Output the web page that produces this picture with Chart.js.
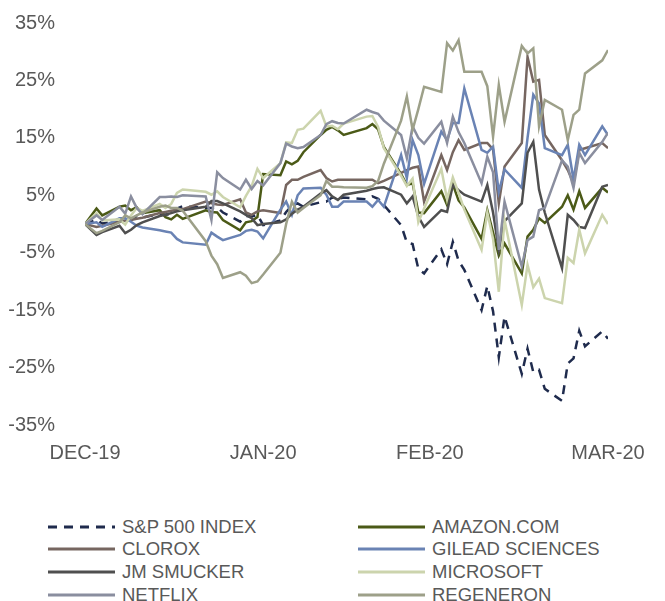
<!DOCTYPE html>
<html>
<head>
<meta charset="utf-8">
<script src="https://cdn.jsdelivr.net/npm/chart.js@4.4.1/dist/chart.umd.min.js"></script>
<style>
  html, body { margin: 0; padding: 0; background: #fff; }
  #wrap { position: relative; width: 665px; height: 601px; }
  #chartBox { position: absolute; left: 0; top: 0; width: 665px; height: 470px; }
  #legend { position: absolute; left: 0; top: 515px; width: 665px; font-family: "Liberation Sans", Arial, sans-serif; font-size: 18.5px; color: #595959; }
  .item { position: absolute; height: 23px; display: flex; align-items: center; white-space: nowrap; }
  .item svg { margin-right: 7px; }
</style>
</head>
<body>
<div id="wrap">
  <div id="chartBox"><canvas id="perfChart"></canvas></div>
  <div id="legend"></div>
</div>
<script>
// Performance cumulée depuis le 31/12/2019 (en %)

const dates = [
  "2019-12-31",
  "2020-01-02","2020-01-03","2020-01-06","2020-01-07","2020-01-08","2020-01-09","2020-01-10",
  "2020-01-13","2020-01-14","2020-01-15","2020-01-16","2020-01-17","2020-01-21","2020-01-22",
  "2020-01-23","2020-01-24","2020-01-27","2020-01-28","2020-01-29","2020-01-30","2020-01-31",
  "2020-02-03","2020-02-04","2020-02-05","2020-02-06","2020-02-07","2020-02-10","2020-02-11",
  "2020-02-12","2020-02-13","2020-02-14","2020-02-18","2020-02-19","2020-02-20","2020-02-21",
  "2020-02-24","2020-02-25","2020-02-26","2020-02-27","2020-02-28",
  "2020-03-02","2020-03-03","2020-03-04","2020-03-05","2020-03-06","2020-03-09","2020-03-10",
  "2020-03-11","2020-03-12","2020-03-13","2020-03-16","2020-03-17","2020-03-18","2020-03-19",
  "2020-03-20","2020-03-23","2020-03-24","2020-03-25","2020-03-26","2020-03-27","2020-03-30",
  "2020-03-31"
];

const tickDates = ["2019-12-31", "2020-01-31", "2020-02-29", "2020-03-31"];
const tickLabels = ["DEC-19", "JAN-20", "FEB-20", "MAR-20"];

const seriesNames = ["S&P 500 INDEX", "AMAZON.COM", "CLOROX", "GILEAD SCIENCES",
  "JM SMUCKER", "MICROSOFT", "NETFLIX", "REGENERON"];
const seriesColors = ["#1f2b4d", "#4b5a17", "#766660", "#6a83b4",
  "#4f4f4f", "#ccd4ad", "#8a8e9f", "#9da089"];

const spx = [0,
  0.8, 0.1, 0.5, 0.2, 0.7, 1.4, 1.1, 1.8, 1.6, 1.8, 2.7, 3.1, 2.8, 2.8, 2.9, 2.0, 0.4, 1.4, 1.3, 1.6, -0.2,
  0.6, 2.1, 3.2, 3.6, 3.0, 3.8, 3.9, 4.6, 4.4, 4.6, 4.3, 4.8, 4.4, 3.3, -0.2, -3.2, -3.5, -7.8, -8.6,
  -4.4, -7.0, -3.1, -6.4, -8.0, -15.0, -10.8, -15.2, -23.2, -16.1, -26.1, -21.7, -25.8, -25.4, -28.7,
  -30.8, -24.3, -23.4, -18.6, -21.3, -18.7, -20.0];
const amzn = [0,
  2.7, 1.5, 3.0, 3.2, 2.4, 2.9, 1.9, 2.4, 1.2, 0.8, 1.6, 0.9, 2.4, 2.1, 2.0, 0.7, -1.1, 0.3, 0.5, 1.2, 8.7,
  8.5, 10.9, 10.4, 11.0, 12.5, 15.5, 16.4, 16.9, 16.3, 15.5, 16.7, 17.4, 16.5, 13.4, 8.7, 6.8, 7.1, 2.0, 1.9,
  5.7, 3.3, 6.9, 4.1, 2.9, -2.6, 2.4, -1.5, -5.5, -3.4, -8.6, -2.2, -1.0, 1.0, 0.2,
  3.0, 5.0, 2.5, 5.7, 2.8, 6.3, 5.5];
const clx = [0,
  -0.5, -0.3, 0.4, 0.6, 0.7, 0.9, 1.1, 1.9, 2.1, 2.3, 2.5, 2.6, 3.9, 3.6, 3.4, 3.3, 4.3, 2.0, 1.6, 2.2, 2.4,
  1.9, 6.8, 7.7, 7.7, 8.2, 9.4, 8.0, 7.4, 7.7, 7.7, 7.7, 7.7, 7.1, 7.5, 8.9, 9.4, 9.8, 10.0, 3.9,
  12.0, 9.4, 12.5, 14.6, 12.9, 14.1, 14.1, 13.0, 3.6, 10.0, 14.1, 29.1, 24.8, 25.1, 15.5,
  11.1, 9.4, 7.1, 12.9, 13.2, 14.1, 13.2];
const gild = [0,
  0.3, -0.5, 1.0, 1.0, 0.4, -0.3, -0.6, -1.1, -1.3, -1.5, -2.6, -3.2, -3.6, -1.5, -2.2, -2.8, -1.9, -1.2, -1.0, -1.3, -2.5,
  2.5, 3.9, 1.6, 5.0, 6.2, 6.3, 5.1, 3.0, 3.0, 3.9, 3.9, 3.0, 4.2, 3.0, 12.0, 8.0, 14.6, 12.0, 7.0,
  16.1, 14.6, 17.6, 17.6, 23.6, 12.9, 12.4, 13.5, 5.6, 9.5, 6.3, 15.0, 22.5, 21.0, 13.2,
  12.0, 13.8, 7.7, 13.8, 12.0, 17.0, 15.5];
const sjm = [0,
  -1.9, -1.4, -0.3, -1.6, -1.0, -0.2, 0.3, 1.4, 1.6, 1.9, 2.2, 2.4, 3.0, 4.0, 4.0, 3.6, 2.2, 1.6, 1.0, -0.2, 0.0,
  0.3, 0.8, 1.8, 2.5, 3.0, 5.3, 5.9, 4.8, 4.2, 5.1, 5.8, 6.1, 6.3, 6.4, 5.1, 3.6, 4.8, 1.3, -0.5,
  2.4, 2.1, 6.8, 5.9, 5.1, 3.9, 6.8, 2.0, -4.5, 0.5, 3.6, 12.4, 14.3, 6.0, 2.0,
  -7.7, 1.6, 0.7, -0.5, -0.7, 6.5, 6.8];
const msft = [0,
  1.9, 0.6, 0.8, -0.1, 1.5, 2.8, 2.3, 3.5, 2.8, 3.5, 5.4, 6.0, 5.6, 5.1, 5.7, 4.7, 2.9, 4.9, 6.6, 9.6, 8.0,
  10.6, 14.2, 14.1, 16.4, 16.6, 19.7, 17.0, 17.1, 16.5, 17.5, 18.7, 18.8, 16.9, 13.2, 8.4, 6.6, 7.9, 0.3, 2.7,
  9.6, 4.3, 8.1, 5.4, 2.5, -4.5, 2.0, -2.6, -11.8, 0.7, -14.1, -7.1, -11.0, -9.5, -12.9,
  -13.8, -5.9, -6.8, -1.0, -5.1, 1.6, 0.0];
const nflx = [0,
  1.5, 0.7, 3.0, 1.8, 4.8, 2.8, 1.7, 4.7, 4.7, 4.8, 4.7, 5.0, 4.8, 0.7, 9.0, 8.0, 6.0, 7.7, 6.1, 7.5, 6.7,
  10.6, 14.0, 13.5, 13.2, 13.4, 15.5, 17.4, 17.9, 17.6, 17.5, 19.9, 19.5, 19.2, 18.0, 15.5, 11.5, 17.0, 15.0, 14.0,
  17.8, 14.1, 18.7, 16.0, 14.1, 7.1, 11.7, 9.0, -4.5, 3.9, -7.4, -2.8, -2.2, 2.4, 2.8,
  11.1, 10.0, 6.3, 12.4, 10.6, 14.3, 15.9];
const regn = [0,
  -1.6, -1.2, 0.3, 1.5, 1.0, 1.5, 2.0, 3.0, 3.2, 2.8, 2.8, 2.3, -3.0, -5.5, -7.0, -9.4, -8.4, -9.0, -10.3, -10.0, -8.8,
  -5.0, 0.0, 3.9, 2.0, 2.8, 5.0, 7.5, 6.5, 6.5, 6.4, 6.3, 6.6, 7.5, 10.5, 18.0, 22.2, 16.4, 20.0, 23.9,
  23.0, 31.5, 30.2, 32.0, 26.5, 26.5, 24.0, 15.2, 24.2, 17.8, 31.0, 29.7, 30.6, 17.0, 21.6,
  19.9, 14.6, 19.0, 19.9, 26.2, 28.5, 30.3];

const allSeries = [spx, amzn, clx, gild, sjm, msft, nflx, regn];

// nombre de jours depuis le premier point
const dayMs = 24 * 3600 * 1000;
const t0 = Date.parse(dates[0]);
function dayIndex(d) { return Math.round((Date.parse(d) - t0) / dayMs); }
const days = dates.map(dayIndex);
const tickDays = tickDates.map(dayIndex);

const fontFamily = "'Liberation Sans', Arial, sans-serif";
const textColor = "#595959";
const spxDash = [9, 7];

function initPerfChart() {
  const canvas = document.getElementById("perfChart");
  if (!canvas) return;

  const datasets = allSeries.map((values, i) => ({
    label: seriesNames[i],
    data: values.map((v, k) => ({ x: days[k], y: v })),
    borderColor: seriesColors[i],
    backgroundColor: seriesColors[i],
    borderWidth: 2.5,
    borderDash: i === 0 ? spxDash : [],
    pointRadius: 0,
    tension: 0,
    fill: false,
    order: -i // comme Excel : la dernière série par-dessus
  }));

  new Chart(canvas.getContext("2d"), {
    type: "line",
    data: { datasets: datasets },
    options: {
      responsive: true,
      maintainAspectRatio: false,
      animation: false,
      devicePixelRatio: 1,
      layout: { padding: { top: 23, right: 57, left: 0, bottom: 0 } },
      plugins: {
        legend: { display: false },
        tooltip: { enabled: false }
      },
      scales: {
        x: {
          type: "linear",
          min: tickDays[0],
          max: tickDays[tickDays.length - 1],
          grid: { display: false, drawTicks: false },
          border: { display: false },
          afterBuildTicks: (scale) => {
            scale.ticks = tickDays.map(v => ({ value: v }));
          },
          afterFit: (scale) => { scale.height = 45; },
          ticks: {
            autoSkip: false,
            maxRotation: 0,
            padding: 16,
            color: textColor,
            font: { family: fontFamily, size: 20 },
            callback: (value, index) => tickLabels[index]
          }
        },
        y: {
          min: -35,
          max: 35,
          grid: { display: false, drawTicks: false },
          border: { display: false },
          afterFit: (scale) => {
            // largeur fixe, et pas de marge verticale ajoutée par le padding des ticks
            scale.width = 85;
            scale.paddingTop = 0;
            scale.paddingBottom = 0;
          },
          ticks: {
            stepSize: 10,
            padding: 30,
            color: textColor,
            font: { family: fontFamily, size: 20 },
            callback: (v) => v + "%"
          }
        }
      }
    }
  });

  buildLegend();
}

function buildLegend() {
  const box = document.getElementById("legend");
  if (!box) return;
  seriesNames.forEach((name, i) => {
    const col = i % 2;
    const row = Math.floor(i / 2);
    const item = document.createElement("div");
    item.className = "item";
    item.style.left = (col === 0 ? 48 : 358) + "px";
    item.style.top = (row * 22.7) + "px";
    const dash = i === 0 ? ' stroke-dasharray="' + spxDash.join(",") + '"' : "";
    item.innerHTML =
      '<svg width="67" height="6"><line x1="0" y1="3" x2="67" y2="3" stroke="' +
      seriesColors[i] + '" stroke-width="3"' + dash + '/></svg><span></span>';
    item.querySelector("span").textContent = name;
    box.appendChild(item);
  });
}

initPerfChart();
</script>
</body>
</html>
